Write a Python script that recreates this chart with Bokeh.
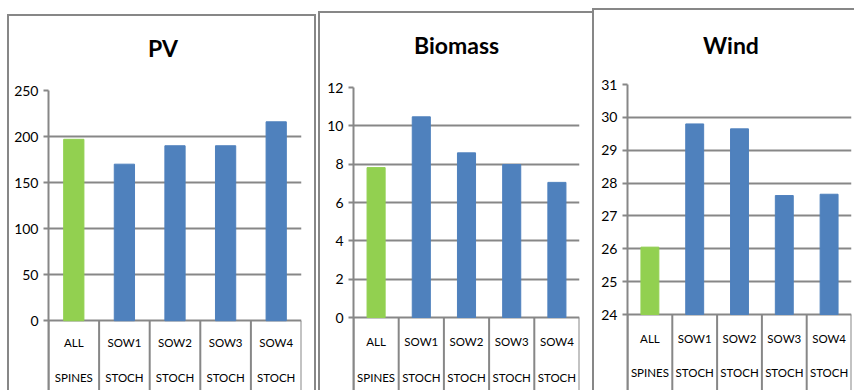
from bokeh.plotting import figure
from bokeh.layouts import row
from bokeh.models import FixedTicker, LabelSet, ColumnDataSource, Range1d, FactorRange, Title
from bokeh.core.properties import value
from bokeh.embed import file_html
from bokeh.resources import INLINE

# ---------------- data ----------------
categories = ["ALL SPINES", "SOW1 STOCH", "SOW2 STOCH", "SOW3 STOCH", "SOW4 STOCH"]
label_line1 = ["ALL", "SOW1", "SOW2", "SOW3", "SOW4"]
label_line2 = ["SPINES", "STOCH", "STOCH", "STOCH", "STOCH"]
bar_colors = ["#92D050", "#4F81BD", "#4F81BD", "#4F81BD", "#4F81BD"]

pv_values = [197, 170, 190, 190, 216]
biomass_values = [7.82, 10.47, 8.59, 7.98, 7.05]
wind_values = [26.05, 29.8, 29.65, 27.62, 27.66]

pv_ticks = [0, 50, 100, 150, 200, 250]
biomass_ticks = [0, 2, 4, 6, 8, 10, 12]
wind_ticks = [24, 25, 26, 27, 28, 29, 30, 31]

FONT = "Lato"
GREY = "#878787"


def make_panel(title, values, ticks, width, height, left, right, top, zero_y,
               title_offset, spacer_px, lab1_y, lab2_y, margin, shadow):
    base = ticks[0]
    span = ticks[-1] - base
    start = base - (height - zero_y) / (zero_y - top) * span
    p = figure(width=width, height=height, x_range=FactorRange(*categories, range_padding=0),
               y_range=Range1d(start, ticks[-1]), x_axis_location=None,
               output_backend="svg", toolbar_location=None,
               min_border_left=left, min_border_right=width - right,
               min_border_top=top, min_border_bottom=0, margin=margin,
               border_fill_color=None, background_fill_color=None,
               outline_line_color=None)
    p.styles = {"background-color": "white", "box-shadow": shadow}
    # blank spacer between the frame and the title
    p.add_layout(Title(text=" ", standoff=0, text_font=FONT,
                       text_font_size=f"{spacer_px}px"), "above")
    p.title = Title(text=title, align="left", offset=title_offset, standoff=10,
                    text_font=FONT, text_font_style="bold", text_font_size="23px",
                    text_color="#000000")

    src = ColumnDataSource(dict(x=categories, top=values, c=bar_colors,
                                l1=label_line1, l2=label_line2))
    p.vbar(x="x", top="top", bottom=base, width=0.4, color="c", source=src)

    # category separators (table lines below the axis)
    sep_x = [(c, -0.5) for c in categories] + [(categories[-1], 0.5)]
    p.segment(x0=sep_x, x1=sep_x, y0=[base] * len(sep_x), y1=[start] * len(sep_x),
              line_color=GREY, line_width=2)

    ax = p.yaxis[0]
    ax.ticker = FixedTicker(ticks=ticks)
    ax.axis_line_color = GREY
    ax.axis_line_width = 2
    ax.major_tick_line_color = GREY
    ax.major_tick_line_width = 2
    ax.major_tick_out = 5
    ax.major_tick_in = 0
    ax.minor_tick_line_color = None
    ax.major_label_text_font = FONT
    ax.major_label_text_font_size = "14px"
    ax.major_label_text_color = "#000000"
    ax.major_label_standoff = 5

    p.ygrid.ticker = FixedTicker(ticks=ticks)
    p.ygrid.grid_line_color = GREY
    p.ygrid.grid_line_width = 2
    p.xgrid.grid_line_color = None

    for col, yy in (("l1", lab1_y), ("l2", lab2_y)):
        p.add_layout(LabelSet(x="x", y=yy, y_units="screen", text=col, source=src,
                              text_align="center", text_baseline="middle",
                              text_font=value(FONT), text_font_size=value("11.5px"),
                              text_color=value("#000000")))
    return p


p1 = make_panel("PV", pv_values, pv_ticks, width=309, height=376, left=41, right=294,
                top=75, zero_y=306, title_offset=99.5, spacer_px=18,
                lab1_y=48, lab2_y=13, margin=(14, 0, 0, 7),
                shadow=f"inset 2px 2px 0 {GREY}, inset -2px 0 0 {GREY}")
p2 = make_panel("Biomass", biomass_values, biomass_ticks, width=274, height=379, left=35,
                right=261, top=76, zero_y=306, title_offset=60.5, spacer_px=18,
                lab1_y=49, lab2_y=13, margin=(11, 0, 0, 2),
                shadow=f"inset 2px 2px 0 {GREY}")
p3 = make_panel("Wind", wind_values, wind_ticks, width=262, height=382, left=35,
                right=259, top=76, zero_y=306, title_offset=75.5, spacer_px=16,
                lab1_y=52, lab2_y=18, margin=(8, 0, 0, 0),
                shadow=f"inset 2px 2px 0 {GREY}")

layout = row(p1, p2, p3, spacing=0)
open("out.html", "w").write(file_html(layout, INLINE))
